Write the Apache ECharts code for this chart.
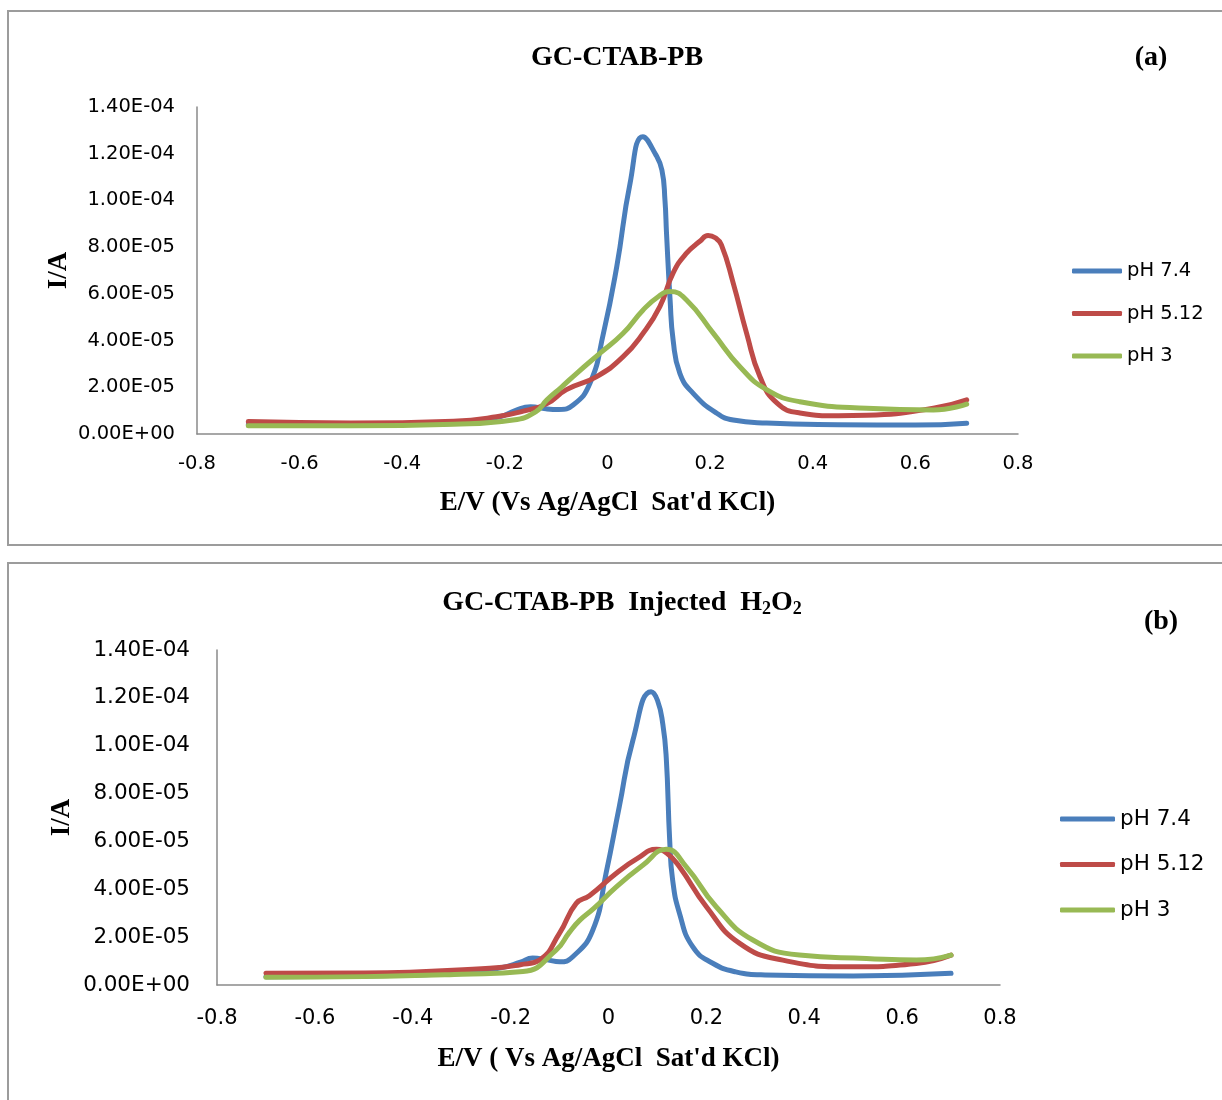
<!DOCTYPE html>
<html>
<head>
<meta charset="utf-8">
<script src="https://cdn.jsdelivr.net/npm/echarts@6/dist/echarts.min.js"></script>
<style>
  html, body { margin: 0; padding: 0; background: #fff; }
  #chart { width: 1222px; height: 1100px; }
</style>
</head>
<body>
<div id="chart"></div>
<script>
// tick labels
const potentialTicks = [-0.8, -0.6, -0.4, -0.2, 0, 0.2, 0.4, 0.6, 0.8]
const seriesNames = ["pH 7.4", "pH 5.12", "pH 3"]

// panel (a) GC-CTAB-PB, current in units of 1E-05 A
const aBlueE = [-0.7, -0.5, -0.3, -0.21, -0.18, -0.15, -0.12, -0.095, -0.067, -0.034, -0.008, 0.018, 0.044, 0.069, 0.093, 0.106, 0.112, 0.115, 0.122, 0.128, 0.141, 0.167, 0.213, 0.245, 0.31, 0.45, 0.6, 0.7]
const aBlueI = [0.4, 0.4, 0.45, 0.74, 1.0, 1.17, 1.08, 1.05, 1.24, 2.18, 4.3, 7.16, 10.74, 12.73, 12.0, 11.3, 10.0, 8.6, 5.74, 4.0, 2.6, 1.74, 0.89, 0.6, 0.47, 0.4, 0.38, 0.46]
const aRedE = [-0.7, -0.5, -0.3, -0.216, -0.16, -0.118, -0.08, -0.021, 0.03, 0.069, 0.102, 0.128, 0.154, 0.18, 0.196, 0.21, 0.222, 0.245, 0.271, 0.297, 0.33, 0.375, 0.45, 0.505, 0.635, 0.7]
const aRedI = [0.53, 0.47, 0.55, 0.74, 1.0, 1.3, 1.9, 2.46, 3.3, 4.3, 5.45, 6.9, 7.74, 8.25, 8.5, 8.4, 8.1, 6.46, 4.32, 2.46, 1.33, 0.9, 0.78, 0.8, 1.1, 1.46]
const aGreenE = [-0.7, -0.5, -0.3, -0.184, -0.14, -0.118, -0.09, -0.06, -0.015, 0.03, 0.069, 0.1, 0.122, 0.154, 0.206, 0.258, 0.31, 0.375, 0.505, 0.635, 0.7]
const aGreenI = [0.35, 0.35, 0.42, 0.6, 0.95, 1.46, 2.0, 2.6, 3.45, 4.3, 5.3, 5.9, 6.1, 5.74, 4.32, 2.88, 1.9, 1.38, 1.1, 1.03, 1.28]

// panel (b) GC-CTAB-PB Injected H2O2
const bBlueE = [-0.7, -0.5, -0.3, -0.223, -0.18, -0.155, -0.125, -0.1, -0.073, -0.032, -0.005, 0.022, 0.05, 0.087, 0.1, 0.111, 0.118, 0.125, 0.131, 0.145, 0.172, 0.213, 0.26, 0.32, 0.5, 0.7]
const bBlueI = [0.35, 0.38, 0.5, 0.71, 0.95, 1.13, 1.05, 0.97, 1.18, 2.3, 4.67, 7.45, 10.24, 12.26, 11.9, 10.9, 9.5, 6.06, 4.4, 3.0, 1.6, 0.91, 0.55, 0.42, 0.38, 0.49]
const bRedE = [-0.7, -0.5, -0.243, -0.18, -0.141, -0.1, -0.066, -0.039, 0.016, 0.06, 0.098, 0.12, 0.145, 0.2, 0.268, 0.356, 0.493, 0.629, 0.7]
const bRedI = [0.49, 0.5, 0.7, 0.85, 1.04, 2.17, 3.41, 3.73, 4.67, 5.3, 5.67, 5.5, 4.94, 3.27, 1.74, 1.04, 0.76, 0.9, 1.25]
const bGreenE = [-0.7, -0.5, -0.3, -0.175, -0.107, -0.08, -0.059, -0.03, 0.016, 0.07, 0.118, 0.159, 0.22, 0.295, 0.39, 0.527, 0.629, 0.7]
const bGreenI = [0.32, 0.35, 0.45, 0.56, 1.46, 2.2, 2.7, 3.2, 4.1, 5.0, 5.67, 4.94, 3.27, 1.88, 1.25, 1.11, 1.04, 1.25]

const colors = ["#4a7ebb", "#be4b48", "#98b954"]
const serif = "'Liberation Serif', 'Times New Roman', serif"
const sans = "'DejaVu Sans', Verdana, sans-serif"

function pairs(xs, ys) {
  return xs.map((x, i) => [x, ys[i]])
}

function sci(v) {
  let s = (v * 1e-5).toExponential(2)
  return s.replace(/e([+-])(\d+)/, (m, sign, d) => "E" + sign + d.padStart(2, "0")).toUpperCase()
}

function xAx(gridIndex, gap, fontSize, margin) {
  return {
    gridIndex: gridIndex,
    type: "value",
    min: -0.8,
    max: 0.8,
    interval: 0.2,
    name: gridIndex === 0 ? "E/V (Vs Ag/AgCl  Sat'd KCl)" : "E/V ( Vs Ag/AgCl  Sat'd KCl)",
    nameLocation: "middle",
    nameGap: gap,
    nameMoveOverlap: false,
    nameTextStyle: { fontFamily: serif, fontWeight: "bold", fontSize: 27, color: "#000" },
    axisLine: { onZero: false, lineStyle: { color: "#8a8a8a", width: 1.5 } },
    axisTick: { show: false },
    splitLine: { show: false },
    axisLabel: { color: "#000", fontFamily: sans, fontSize: fontSize, margin: margin }
  }
}

function yAx(gridIndex, gap, fontSize, margin) {
  return {
    gridIndex: gridIndex,
    type: "value",
    min: 0,
    max: 14,
    interval: 2,
    name: "I/A",
    nameLocation: "middle",
    nameGap: gap,
    nameMoveOverlap: false,
    nameTextStyle: { fontFamily: serif, fontWeight: "bold", fontSize: 27, color: "#000" },
    axisLine: { show: true, onZero: false, lineStyle: { color: "#8a8a8a", width: 1.5 } },
    axisTick: { show: false },
    splitLine: { show: false },
    axisLabel: { color: "#000", fontFamily: sans, fontSize: fontSize, margin: margin, formatter: sci }
  }
}

function line(name, idx, data, color) {
  return {
    name: name,
    type: "line",
    xAxisIndex: idx,
    yAxisIndex: idx,
    data: data,
    smooth: 0.5,
    showSymbol: false,
    color: color,
    lineStyle: { width: 5, color: color, cap: "round", join: "round" }
  }
}

let chart = echarts.init(document.getElementById("chart"), null, { renderer: "canvas" })

chart.setOption({
  backgroundColor: "#fff",
  animation: false,
  color: colors,
  grid: [
    { left: 197, top: 107, width: 821, height: 327 },
    { left: 217, top: 650, width: 783, height: 335 }
  ],
  xAxis: [xAx(0, 56, 19.5, 20), xAx(1, 61, 21, 23)],
  yAxis: [yAx(0, 124, 19.5, 22), yAx(1, 141, 21.5, 27)],
  legend: [
    {
      data: seriesNames,
      orient: "vertical",
      left: 1072,
      top: 261,
      padding: 0,
      itemGap: 22.5,
      itemWidth: 50,
      itemHeight: 5,
      icon: "roundRect",
      textStyle: { fontFamily: sans, fontSize: 19.5, color: "#000" }
    },
    {
      data: seriesNames.map(n => ({ name: n + " " })),
      orient: "vertical",
      left: 1060,
      top: 808,
      padding: 0,
      itemGap: 23.5,
      itemWidth: 55,
      itemHeight: 5,
      icon: "roundRect",
      textStyle: { fontFamily: sans, fontSize: 21.5, color: "#000" }
    }
  ],
  series: [
    line(seriesNames[0], 0, pairs(aBlueE, aBlueI), colors[0]),
    line(seriesNames[1], 0, pairs(aRedE, aRedI), colors[1]),
    line(seriesNames[2], 0, pairs(aGreenE, aGreenI), colors[2]),
    line(seriesNames[0] + " ", 1, pairs(bBlueE, bBlueI), colors[0]),
    line(seriesNames[1] + " ", 1, pairs(bRedE, bRedI), colors[1]),
    line(seriesNames[2] + " ", 1, pairs(bGreenE, bGreenI), colors[2])
  ],
  graphic: [
    { type: "rect", shape: { x: 8, y: 11, width: 1240, height: 534 }, style: { fill: null, stroke: "#9c9c9c", lineWidth: 2 }, z: -1 },
    { type: "rect", shape: { x: 8, y: 563, width: 1240, height: 560 }, style: { fill: null, stroke: "#9c9c9c", lineWidth: 2 }, z: -1 },
    { type: "text", x: 617, y: 58, style: { text: "GC-CTAB-PB", font: "bold 28px " + serif, textAlign: "center", textVerticalAlign: "middle", fill: "#000" } },
    { type: "text", x: 1151, y: 58, style: { text: "(a)", font: "bold 28px " + serif, textAlign: "center", textVerticalAlign: "middle", fill: "#000" } },
    {
      type: "text", x: 622, y: 603,
      style: {
        text: "{t|GC-CTAB-PB  Injected  H}{s|2}{t|O}{s|2}",
        textAlign: "center", textVerticalAlign: "middle",
        rich: {
          t: { fontFamily: serif, fontWeight: "bold", fontSize: 28, fill: "#000", color: "#000" },
          s: { fontFamily: serif, fontWeight: "bold", fontSize: 18, fill: "#000", color: "#000", padding: [12, 0, 0, 0] }
        }
      }
    },
    { type: "text", x: 1161, y: 622, style: { text: "(b)", font: "bold 28px " + serif, textAlign: "center", textVerticalAlign: "middle", fill: "#000" } }
  ]
})
</script>
</body>
</html>
